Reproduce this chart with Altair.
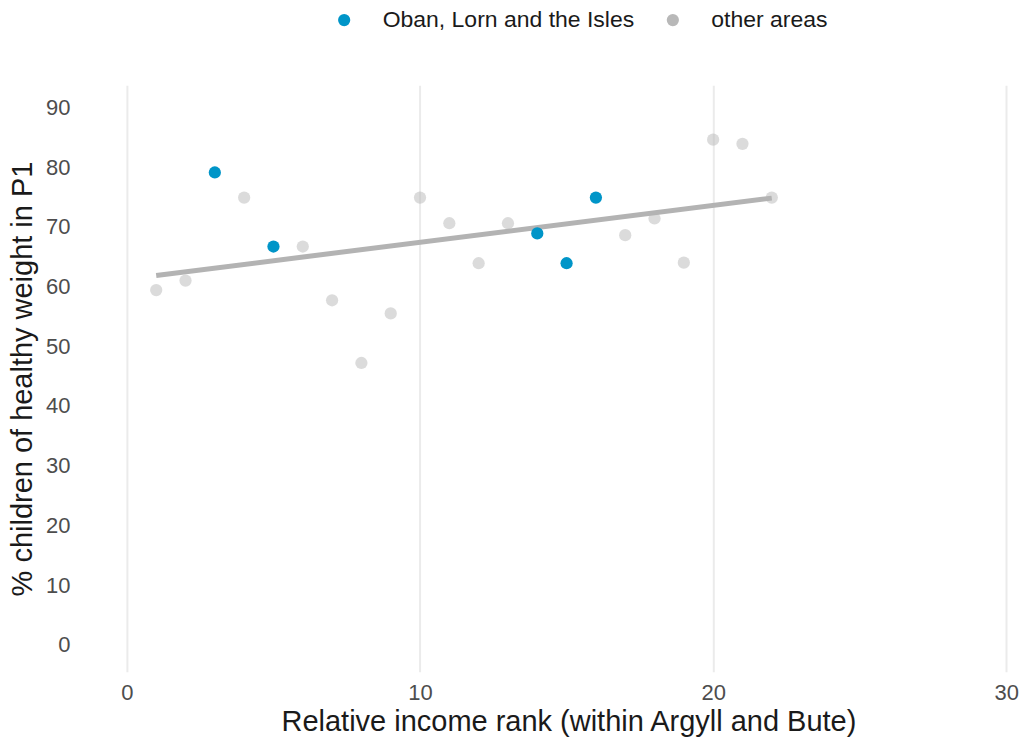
import altair as alt
import pandas as pd

rank = list(range(1, 23))
pct = [59.4, 61.0, 79.1, 74.9, 66.7, 66.7, 57.7, 47.2, 55.5, 74.9, 70.6,
       63.9, 70.6, 68.9, 63.9, 74.9, 68.6, 71.4, 64.0, 84.6, 83.9, 74.9]
group = ["other areas"] * 22
for i in [3, 5, 14, 15, 16]:
    group[i - 1] = "Oban, Lorn and the Isles"

df = pd.DataFrame({"rank": rank, "pct": pct, "group": group})

FONT = "Liberation Sans"
xscale = alt.Scale(domain=[-1.5, 30.4], nice=False, zero=False)
yscale = alt.Scale(domain=[-4.5, 93.7], nice=False, zero=False)

color = alt.Color(
    "group:N",
    scale=alt.Scale(domain=["Oban, Lorn and the Isles", "other areas"],
                    range=["#0095c8", "#b8b8b8"]),
    legend=alt.Legend(
        title=None, orient="none", direction="horizontal",
        legendX=250, legendY=-77, symbolType="circle", symbolSize=150,
        symbolOpacity=1, labelFontSize=23, labelColor="#1a1a1a",
        labelFont=FONT, labelOffset=27, columnPadding=27, padding=0,
        labelLimit=400,
    ),
)

x = alt.X("rank:Q", scale=xscale,
          axis=alt.Axis(values=[0, 10, 20, 30], title="Relative income rank (within Argyll and Bute)",
                        titleX=486, titleY=36, grid=True, gridColor="#ebebeb", gridWidth=2,
                        domain=False, ticks=False, labelPadding=11))
y = alt.Y("pct:Q", scale=yscale,
          axis=alt.Axis(values=list(range(0, 91, 10)), title="% children of healthy weight in P1",
                        grid=False, domain=False, ticks=False, labelPadding=13, titlePadding=8))

base = alt.Chart(df)

gray_pts = base.transform_filter(alt.datum.group == "other areas").mark_circle(
    size=150, opacity=0.5).encode(x=x, y=y, color=color)

line = base.transform_regression("rank", "pct").mark_line(
    color="#b3b3b3", strokeWidth=5).encode(x=x, y=y)

blue_pts = base.transform_filter(alt.datum.group != "other areas").mark_circle(
    size=150, opacity=1).encode(x=x, y=y, color=color)

chart = alt.layer(gray_pts, line, blue_pts).properties(
    width=936, height=587, padding=0
).configure_view(stroke=None).configure_axis(
    labelFont=FONT, labelFontSize=22, labelColor="#4d4d4d",
    titleFont=FONT, titleFontSize=29, titleColor="#1a1a1a", titleFontWeight="normal",
).configure_legend(labelFont=FONT)

chart.save("out.html", embed_options={"renderer": "svg", "actions": False})
